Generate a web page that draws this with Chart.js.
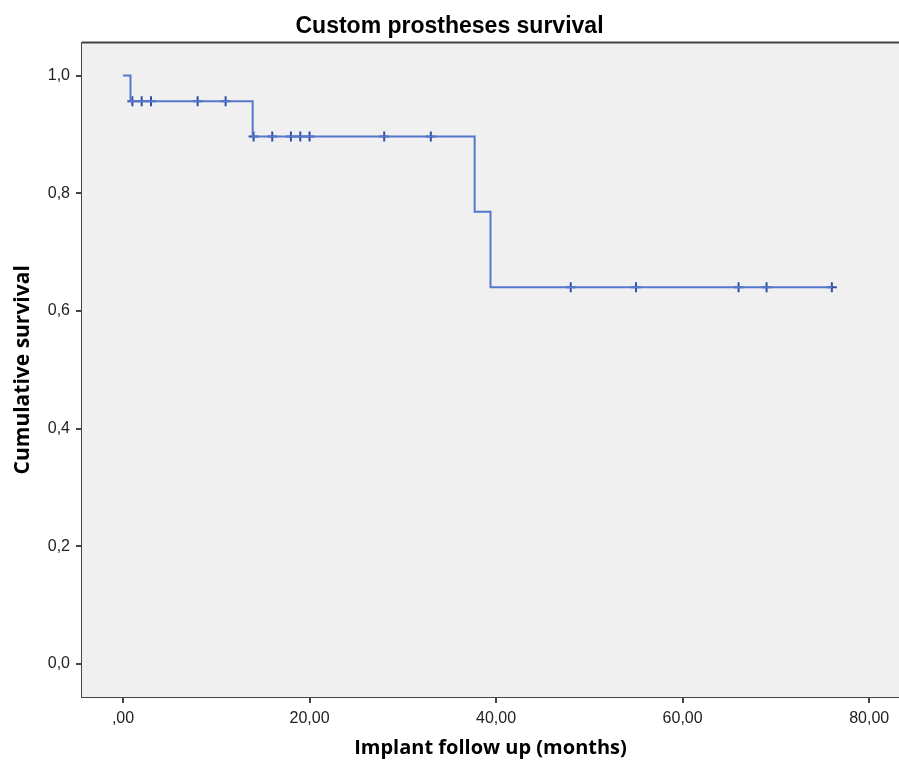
<!DOCTYPE html>
<html>
<head>
<meta charset="utf-8">
<script src="https://cdn.jsdelivr.net/npm/chart.js@4.4.1/dist/chart.umd.min.js"></script>
<style>
  html, body { margin: 0; padding: 0; background: #fff; }
  #wrap { width: 899px; height: 762px; }
</style>
</head>
<body>
<div id="wrap"><canvas id="km" width="899" height="762"></canvas></div>
<script>
// Kaplan-Meier step curve (months, cumulative survival)
const stepTimes = [0, 0.8, 13.9, 37.7, 39.4, 76];
const stepSurv  = [1.0, 0.9565, 0.8967, 0.7686, 0.6405, 0.6405];

// censored observations
const censorTimes = [1, 2, 3, 8, 11, 14, 16, 18, 19, 20, 28, 33, 48, 55, 66, 69, 76];
const censorSurv  = [0.9565, 0.9565, 0.9565, 0.9565, 0.9565,
                     0.8967, 0.8967, 0.8967, 0.8967, 0.8967, 0.8967, 0.8967,
                     0.6405, 0.6405, 0.6405, 0.6405, 0.6405];

const xTickValues = [0, 20, 40, 60, 80];
const xTickLabels = [',00', '20,00', '40,00', '60,00', '80,00'];
const yTickValues = [0, 0.2, 0.4, 0.6, 0.8, 1.0];
const yTickLabels = ['0,0', '0,2', '0,4', '0,6', '0,8', '1,0'];

const frameColor = '#444';

// plot background + top frame line
const plotFrame = {
  id: 'plotFrame',
  beforeDatasetsDraw(chart) {
    const { ctx, chartArea: a } = chart;
    ctx.save();
    ctx.fillStyle = '#f0f0f0';
    ctx.fillRect(a.left, a.top, a.right - a.left, a.bottom - a.top);
    ctx.strokeStyle = frameColor;
    ctx.lineWidth = 2;
    ctx.beginPath();
    ctx.moveTo(a.left, a.top);
    ctx.lineTo(a.right, a.top);
    ctx.stroke();
    ctx.restore();
  }
};

new Chart(document.getElementById('km'), {
  type: 'scatter',
  data: {
    datasets: [
      {
        label: 'Survival',
        data: stepTimes.map((t, i) => ({ x: t, y: stepSurv[i] })),
        showLine: true,
        stepped: 'before',
        borderColor: '#5577cc',
        borderWidth: 2,
        pointRadius: 0
      },
      {
        label: 'Censored',
        data: censorTimes.map((t, i) => ({ x: t, y: censorSurv[i] })),
        showLine: false,
        pointStyle: 'cross',
        pointRadius: 5,
        borderColor: '#2f4ea6',
        borderWidth: 2
      }
    ]
  },
  options: {
    responsive: false,
    animation: false,
    layout: { padding: 0, autoPadding: false },
    plugins: {
      legend: { display: false },
      tooltip: { enabled: false },
      title: {
        display: true,
        text: 'Custom prostheses survival',
        color: '#000',
        font: { family: 'Liberation Sans', size: 23, weight: 'bold' },
        padding: { top: 13, bottom: 2 }
      }
    },
    scales: {
      x: {
        type: 'linear',
        min: -4.4,
        max: 83.2,
        afterFit(s) { s.height = 65; s.paddingRight = 0; s.paddingLeft = 0; },
        afterBuildTicks(s) { s.ticks = xTickValues.map(v => ({ value: v })); },
        grid: { drawOnChartArea: false, drawTicks: true, tickLength: 6, tickColor: frameColor, lineWidth: 2 },
        border: { display: true, color: frameColor, width: 2 },
        ticks: {
          color: '#222',
          padding: 6,
          maxRotation: 0,
          font: { family: 'Liberation Sans', size: 16 },
          callback: (v, i) => xTickLabels[i]
        },
        title: {
          display: true,
          text: 'Implant follow up (months)',
          color: '#000',
          font: { family: 'Open Sans', size: 20, weight: 'bold' },
          padding: { top: 0, bottom: 2 }
        }
      },
      y: {
        type: 'linear',
        min: -0.0561,
        max: 1.0561,
        afterFit(s) { s.width = 82; },
        afterBuildTicks(s) { s.ticks = yTickValues.map(v => ({ value: v })); },
        grid: { drawOnChartArea: false, drawTicks: true, tickLength: 6, tickColor: frameColor, lineWidth: 2 },
        border: { display: true, color: frameColor, width: 2 },
        ticks: {
          color: '#222',
          padding: 6,
          font: { family: 'Liberation Sans', size: 16 },
          callback: (v, i) => yTickLabels[i]
        },
        title: {
          display: true,
          text: 'Cumulative survival',
          color: '#000',
          font: { family: 'Open Sans', size: 21, weight: 'bold' },
          padding: { top: 10, bottom: 0 }
        }
      }
    }
  },
  plugins: [plotFrame]
});
</script>
</body>
</html>
